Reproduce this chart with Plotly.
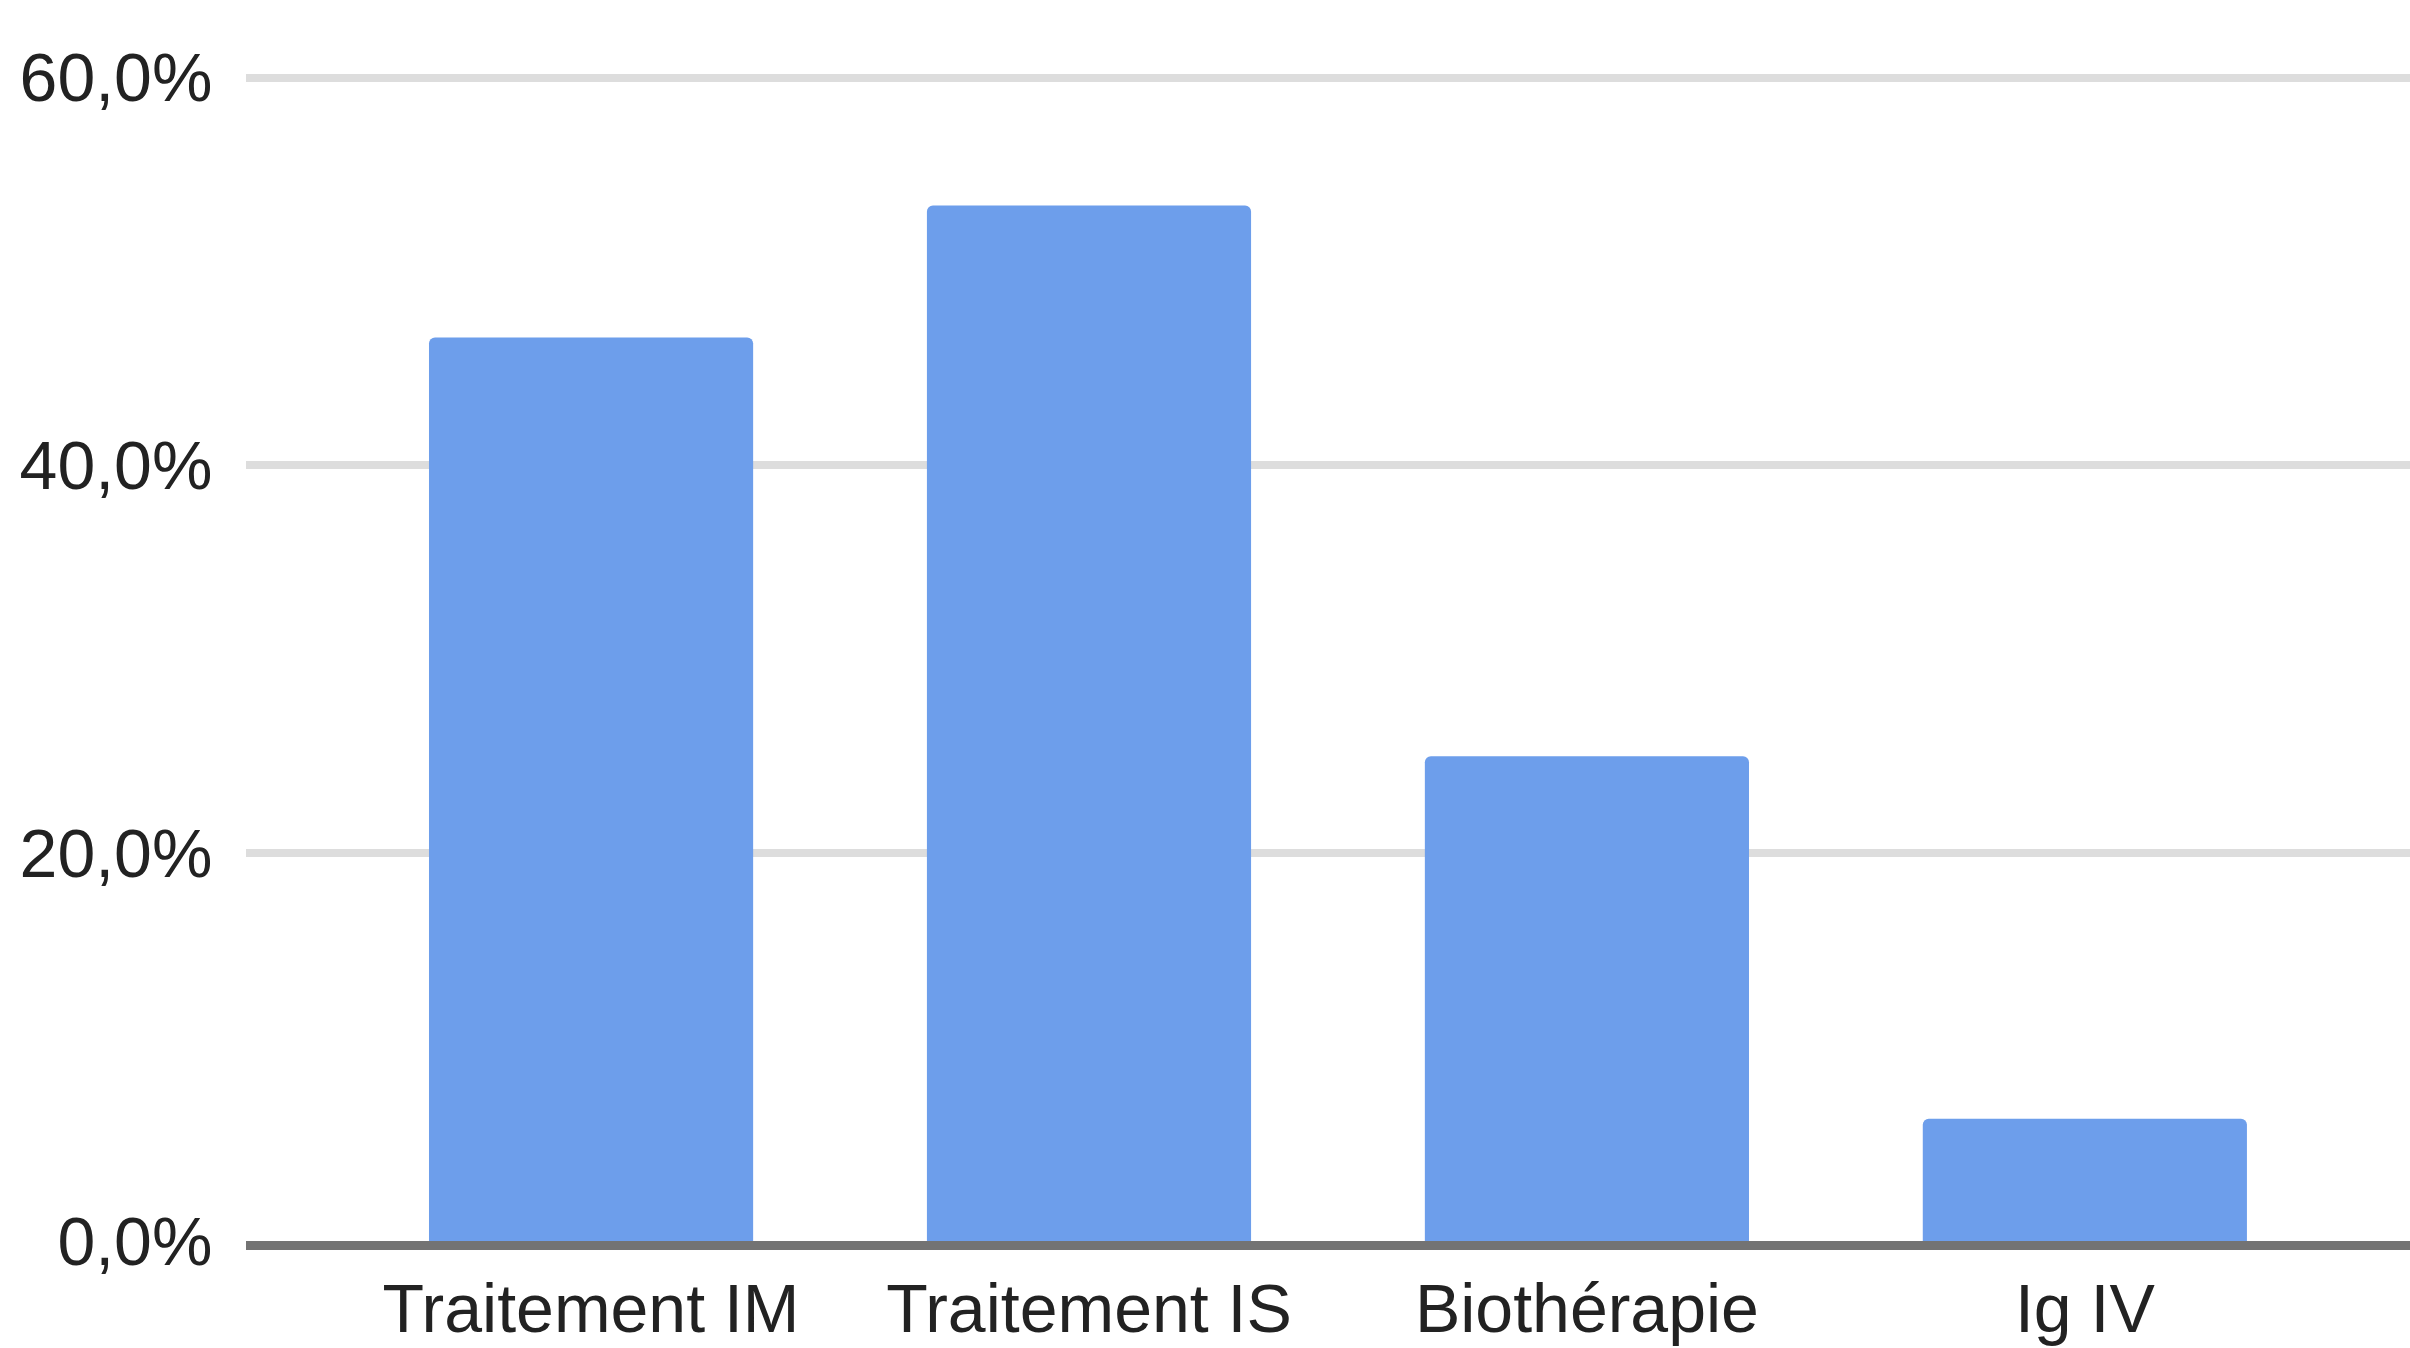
import plotly.graph_objects as go

# Share of patients by treatment type (percent)
categories = ["Traitement IM", "Traitement IS", "Biothérapie", "Ig IV"]
percentages = [46.6, 53.4, 25.0, 6.3]

# Y axis ticks, French decimal notation
y_tick_values = [0, 20, 40, 60]
y_tick_labels = ["0,0%", "20,0%", "40,0%", "60,0%"]

BAR_COLOR = "#6d9eeb"
TEXT_COLOR = "#222222"
FONT = "Liberation Sans, Arial, sans-serif"

fig = go.Figure(
    go.Bar(
        x=categories,
        y=percentages,
        marker=dict(color=BAR_COLOR, line=dict(width=0), cornerradius=6),
        hoverinfo="skip",
    )
)

fig.update_layout(
    width=2410,
    height=1348,
    margin=dict(l=246, r=0, t=20, b=107, autoexpand=False),
    paper_bgcolor="white",
    plot_bgcolor="white",
    bargap=0.349,
    showlegend=False,
    font=dict(family=FONT, size=68, color=TEXT_COLOR),
)

fig.update_xaxes(
    type="category",
    range=[-0.693, 3.653],
    automargin=False,
    showgrid=False,
    showline=True,
    linecolor="#737373",
    linewidth=9,
    ticks="",
    tickfont=dict(family=FONT, size=68, color=TEXT_COLOR),
    fixedrange=True,
)

fig.update_yaxes(
    range=[0, 62.97],
    automargin=False,
    tickvals=y_tick_values,
    ticktext=y_tick_labels,
    showgrid=True,
    gridcolor="#dddddd",
    gridwidth=8,
    zeroline=False,
    showline=False,
    ticks="outside",
    ticklen=19,
    tickcolor="rgba(0,0,0,0)",
    tickfont=dict(family=FONT, size=68, color=TEXT_COLOR),
    fixedrange=True,
)

fig.write_html("out.html", config={"displayModeBar": False})
